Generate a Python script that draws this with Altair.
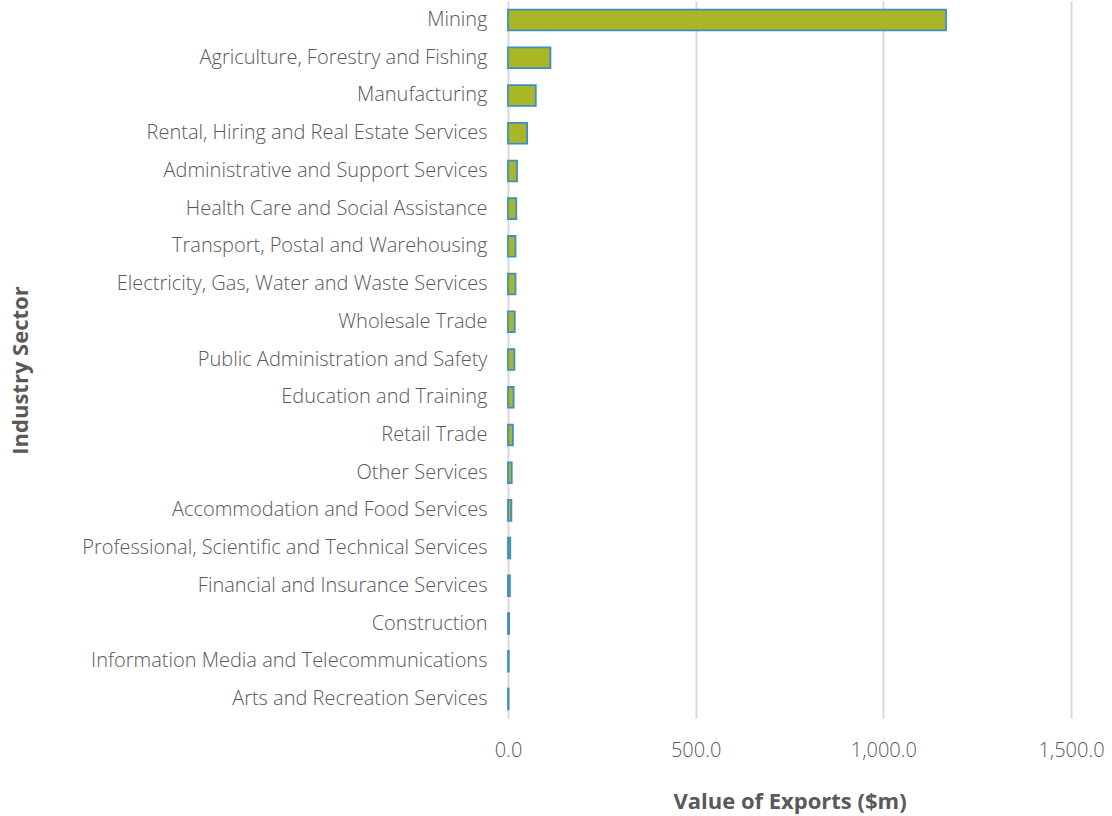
import altair as alt
import pandas as pd

sectors = [
    "Mining",
    "Agriculture, Forestry and Fishing",
    "Manufacturing",
    "Rental, Hiring and Real Estate Services",
    "Administrative and Support Services",
    "Health Care and Social Assistance",
    "Transport, Postal and Warehousing",
    "Electricity, Gas, Water and Waste Services",
    "Wholesale Trade",
    "Public Administration and Safety",
    "Education and Training",
    "Retail Trade",
    "Other Services",
    "Accommodation and Food Services",
    "Professional, Scientific and Technical Services",
    "Financial and Insurance Services",
    "Construction",
    "Information Media and Telecommunications",
    "Arts and Recreation Services",
]
values = [1167, 113, 74, 51, 24, 22, 20, 20, 18, 17, 15, 13, 10, 9, 6, 5, 3, 2, 1.5]

df = pd.DataFrame({"sector": sectors, "value": values})

FONT = "Open Sans"
GREY = "#595959"

chart = (
    alt.Chart(df)
    .mark_bar(color="#A9B727", stroke="#3E8EC4", strokeWidth=1.8)
    .encode(
        x=alt.X(
            "value:Q",
            scale=alt.Scale(domain=[0, 1500], nice=False),
            axis=alt.Axis(
                values=[0, 500, 1000, 1500],
                format=",.1f",
                title="Value of Exports ($m)",
                domain=False,
                ticks=False,
                grid=True,
                gridColor="#D9D9D9",
                gridWidth=2,
                labelFont=FONT,
                labelFontSize=20,
                labelFontWeight=300,
                labelColor=GREY,
                labelPadding=22,
                labelFlush=False,
                titleFont=FONT,
                titleFontSize=22,
                titleFontWeight="bold",
                titleColor=GREY,
                titleX=281.5,
                titleY=83,
                titleBaseline="middle",
                titleAlign="center",
            ),
        ),
        y=alt.Y(
            "sector:N",
            sort=sectors,
            scale=alt.Scale(paddingInner=0.45, paddingOuter=0.23),
            axis=alt.Axis(
                title="Industry Sector",
                domain=False,
                ticks=False,
                grid=False,
                labelFont=FONT,
                labelFontSize=20,
                labelFontWeight=300,
                labelColor=GREY,
                labelPadding=21,
                labelLimit=600,
                titleFont=FONT,
                titleFontSize=22,
                titleFontWeight="bold",
                titleColor=GREY,
                titleAngle=270,
                titleX=-488,
                titleY=369,
                titleBaseline="middle",
                titleAlign="center",
            ),
        ),
    )
    .properties(
        width=563,
        height=717,
        autosize=alt.AutoSizeParams(type="none"),
        padding={"left": 508, "top": 1, "right": 41, "bottom": 98},
    )
    .configure_view(stroke=None)
)

chart.save("out.html", embed_options={"renderer": "svg", "actions": False})
